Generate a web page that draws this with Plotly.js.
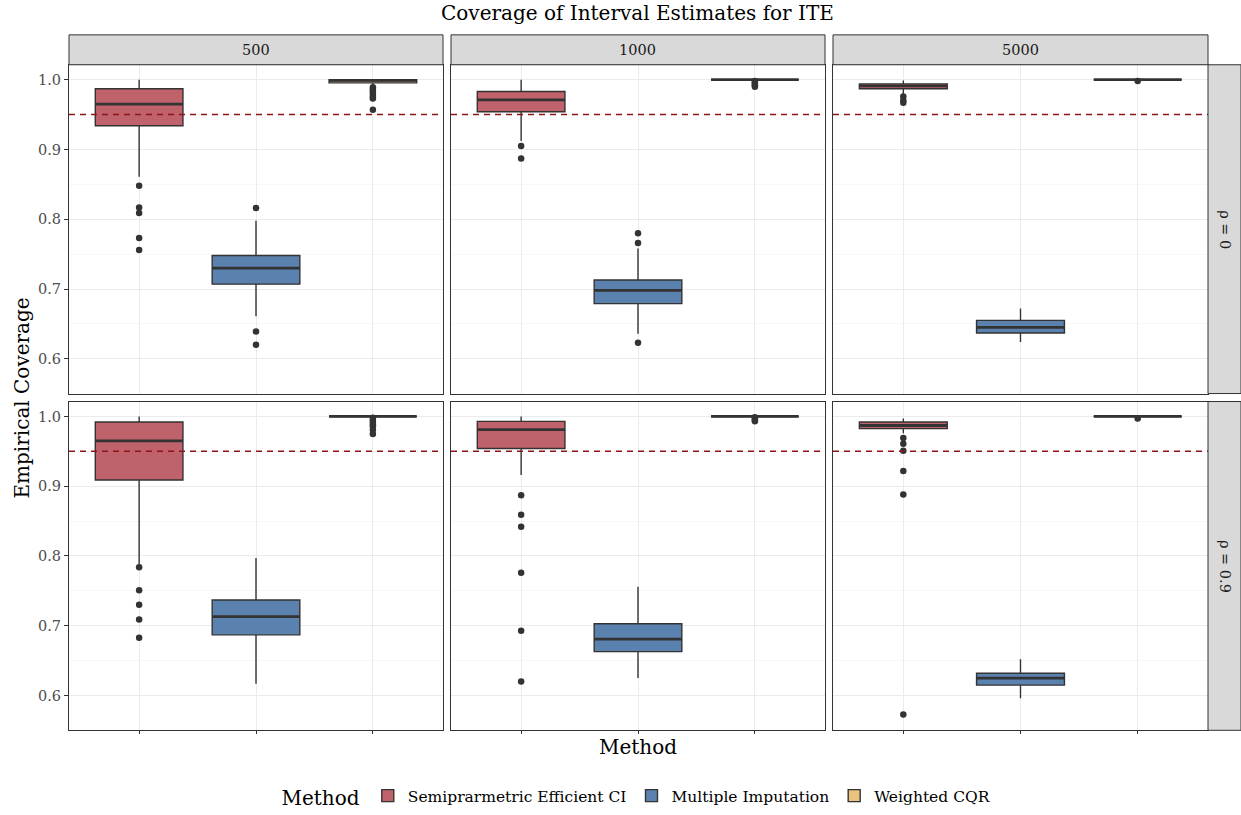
<!DOCTYPE html>
<html><head><meta charset="utf-8">
<script src="https://cdn.plot.ly/plotly-3.0.1.min.js"></script>
<style>html,body{margin:0;padding:0;background:#fff}#chart{width:1241px;height:815px}</style>
</head><body><div id="chart"></div>
<script>
// ---- data ----
const sampleSizes = ['500', '1000', '5000'];
const rhoLabels = ['ρ = 0', 'ρ = 0.9'];
const methods = ['Semiprarmetric Efficient CI', 'Multiple Imputation', 'Weighted CQR'];
const yTicks = [0.6, 0.7, 0.8, 0.9, 1.0];
const yTickText = ['0.6', '0.7', '0.8', '0.9', '1.0'];
const refLine = 0.95;
// panel order: (ρ=0: 500, 1000, 5000), (ρ=0.9: 500, 1000, 5000)
const seLower  = [0.861, 0.912, 0.978, 0.788, 0.916, 0.976];
const seQ1     = [0.934, 0.954, 0.987, 0.909, 0.954, 0.9825];
const seMedian = [0.965, 0.971, 0.991, 0.965, 0.981, 0.987];
const seQ3     = [0.987, 0.983, 0.994, 0.992, 0.993, 0.992];
const seUpper  = [1.000, 1.000, 0.999, 1.000, 1.000, 0.997];
const seOut = [
  [0.848, 0.817, 0.809, 0.773, 0.756],
  [0.905, 0.887],
  [0.976, 0.970, 0.967],
  [0.784, 0.751, 0.730, 0.709, 0.683],
  [0.887, 0.859, 0.842, 0.776, 0.693, 0.620],
  [0.969, 0.961, 0.951, 0.922, 0.888, 0.573]
];
const miLower  = [0.661, 0.636, 0.624, 0.617, 0.625, 0.596];
const miQ1     = [0.707, 0.679, 0.637, 0.687, 0.663, 0.615];
const miMedian = [0.730, 0.698, 0.645, 0.713, 0.681, 0.625];
const miQ3     = [0.748, 0.713, 0.655, 0.737, 0.703, 0.632];
const miUpper  = [0.798, 0.758, 0.672, 0.797, 0.756, 0.652];
const miOut = [
  [0.816, 0.639, 0.620],
  [0.780, 0.766, 0.623],
  [], [], [], []
];
const cqLower  = [0.991, 1.000, 1.000, 1.000, 1.000, 1.000];
const cqQ1     = [0.9955, 1.000, 1.000, 1.000, 1.000, 1.000];
const cqMedian = [0.999, 1.000, 1.000, 1.000, 1.000, 1.000];
const cqQ3     = [1.000, 1.000, 1.000, 1.000, 1.000, 1.000];
const cqUpper  = [1.000, 1.000, 1.000, 1.000, 1.000, 1.000];
const cqOut = [
  [0.989, 0.986, 0.983, 0.980, 0.976, 0.973, 0.957],
  [0.998, 0.996, 0.994, 0.992, 0.990],
  [0.998],
  [0.998, 0.995, 0.992, 0.989, 0.986, 0.981, 0.975],
  [0.999, 0.997, 0.995, 0.993],
  [0.997]
];

// ---- styling / layout ----
const FONT = 'DejaVu Serif, Liberation Serif, serif';
const fills = ['#C0626B', '#5B81AE', '#E9C47F'];
const edge = '#333333';
const W = 1241, H = 815;
const px = x => x / W, py = y => 1 - y / H;
const colX = [[69, 443], [451, 825], [833, 1208]];
const rowY = [[65, 395], [403, 733]];
const boxW = 0.75;

const stats = [
  {lo: seLower, q1: seQ1, md: seMedian, q3: seQ3, hi: seUpper, out: seOut},
  {lo: miLower, q1: miQ1, md: miMedian, q3: miQ3, hi: miUpper, out: miOut},
  {lo: cqLower, q1: cqQ1, md: cqMedian, q3: cqQ3, hi: cqUpper, out: cqOut}
];

const traces = [];
const layout = {
  width: W, height: H,
  margin: {l: 0, r: 0, t: 0, b: 0},
  paper_bgcolor: '#fff', plot_bgcolor: '#fff',
  font: {family: FONT, color: '#000'},
  showlegend: true,
  boxmode: 'overlay',
  legend: {orientation: 'h', x: px(638), xanchor: 'center', y: py(800), yanchor: 'middle',
           font: {family: FONT, size: 15.5, color: '#000'},
           title: {text: 'Method', font: {family: FONT, size: 20}, side: 'left'},
           itemwidth: 30, tracegroupgap: 0},
  shapes: [], annotations: []
};

for (let r = 0; r < 2; r++) {
  for (let c = 0; c < 3; c++) {
    const p = r * 3 + c, n = p + 1;
    const xa = 'x' + (n === 1 ? '' : n), ya = 'y' + (n === 1 ? '' : n);
    layout['xaxis' + (n === 1 ? '' : n)] = {
      domain: [px(colX[c][0]), px(colX[c][1])], anchor: ya,
      range: [0.4, 3.6], tickvals: [1, 2, 3], showticklabels: false,
      ticks: r === 1 ? 'outside' : '', ticklen: 3, tickcolor: edge,
      showgrid: true, gridcolor: '#EBEBEB', gridwidth: 1, zeroline: false,
      showline: true, mirror: true, linecolor: edge, linewidth: 1, fixedrange: true
    };
    layout['yaxis' + (n === 1 ? '' : n)] = {
      domain: [py(rowY[r][1]), py(rowY[r][0])], anchor: xa,
      range: [0.5502, 1.0214], tickvals: yTicks, ticktext: yTickText,
      showticklabels: c === 0, ticks: c === 0 ? 'outside' : '', ticklen: 4, tickcolor: edge,
      tickfont: {family: FONT, size: 14.5, color: '#4D4D4D'},
      showgrid: true, gridcolor: '#EBEBEB', gridwidth: 1, zeroline: false,
      minor: {dtick: 0.1, tick0: 0.55, showgrid: true, gridcolor: '#F3F3F3', gridwidth: 0.6, ticks: ''},
      showline: true, mirror: true, linecolor: edge, linewidth: 1, fixedrange: true
    };
    stats.forEach((s, m) => {
      const xpos = m + 1;
      traces.push({
        type: 'box', name: methods[m], legendgroup: methods[m], showlegend: p === 0,
        x: [xpos], q1: [s.q1[p]], median: [s.md[p]], q3: [s.q3[p]],
        lowerfence: [s.lo[p]], upperfence: [s.hi[p]],
        width: boxW, whiskerwidth: 0, boxpoints: false,
        fillcolor: fills[m], line: {color: edge, width: 1.4},
        xaxis: xa, yaxis: ya, hoverinfo: 'skip'
      });
      traces.push({
        type: 'scatter', mode: 'lines', showlegend: false, legendgroup: methods[m],
        x: [xpos - boxW / 2, xpos + boxW / 2], y: [s.md[p], s.md[p]],
        line: {color: edge, width: 2.8}, xaxis: xa, yaxis: ya, hoverinfo: 'skip'
      });
      if (s.out[p].length) {
        traces.push({
          type: 'scatter', mode: 'markers', showlegend: false, legendgroup: methods[m],
          x: s.out[p].map(() => xpos), y: s.out[p],
          marker: {color: edge, size: 6.5}, xaxis: xa, yaxis: ya, hoverinfo: 'skip'
        });
      }
    });
    // reference line at 0.95
    layout.shapes.push({type: 'line', xref: xa + ' domain', yref: ya, x0: 0, x1: 1, y0: refLine, y1: refLine,
      line: {color: '#8E1418', width: 1.5, dash: '6px,5px'}, layer: 'above'});
  }
}

// facet strips
colX.forEach((cx, c) => {
  layout.shapes.push({type: 'rect', xref: 'paper', yref: 'paper', x0: px(cx[0]), x1: px(cx[1]),
    y0: py(65), y1: py(35), fillcolor: '#D9D9D9', line: {color: edge, width: 1}});
  layout.annotations.push({xref: 'paper', yref: 'paper', x: px((cx[0] + cx[1]) / 2), y: py(50),
    text: sampleSizes[c], showarrow: false, font: {family: FONT, size: 14.5, color: '#1A1A1A'},
    xanchor: 'center', yanchor: 'middle'});
});
rowY.forEach((ry, r) => {
  layout.shapes.push({type: 'rect', xref: 'paper', yref: 'paper', x0: px(1208), x1: px(1241),
    y0: py(ry[1]), y1: py(ry[0]), fillcolor: '#D9D9D9', line: {color: edge, width: 1}});
  layout.annotations.push({xref: 'paper', yref: 'paper', x: px(1225), y: py((ry[0] + ry[1]) / 2),
    text: rhoLabels[r], showarrow: false, textangle: 90, font: {family: FONT, size: 14.5, color: '#1A1A1A'},
    xanchor: 'center', yanchor: 'middle'});
});

// titles
layout.annotations.push({xref: 'paper', yref: 'paper', x: px(638), y: py(13), text: 'Coverage of Interval Estimates for ITE',
  showarrow: false, font: {family: FONT, size: 20, color: '#000'}, xanchor: 'center', yanchor: 'middle'});
layout.annotations.push({xref: 'paper', yref: 'paper', x: px(638), y: py(750), text: 'Method',
  showarrow: false, font: {family: FONT, size: 20, color: '#000'}, xanchor: 'center', yanchor: 'middle'});
layout.annotations.push({xref: 'paper', yref: 'paper', x: px(22), y: py(400), text: 'Empirical Coverage',
  showarrow: false, textangle: -90, font: {family: FONT, size: 20, color: '#000'}, xanchor: 'center', yanchor: 'middle'});

Plotly.newPlot('chart', traces, layout, {displayModeBar: false, staticPlot: true});
</script></body></html>
